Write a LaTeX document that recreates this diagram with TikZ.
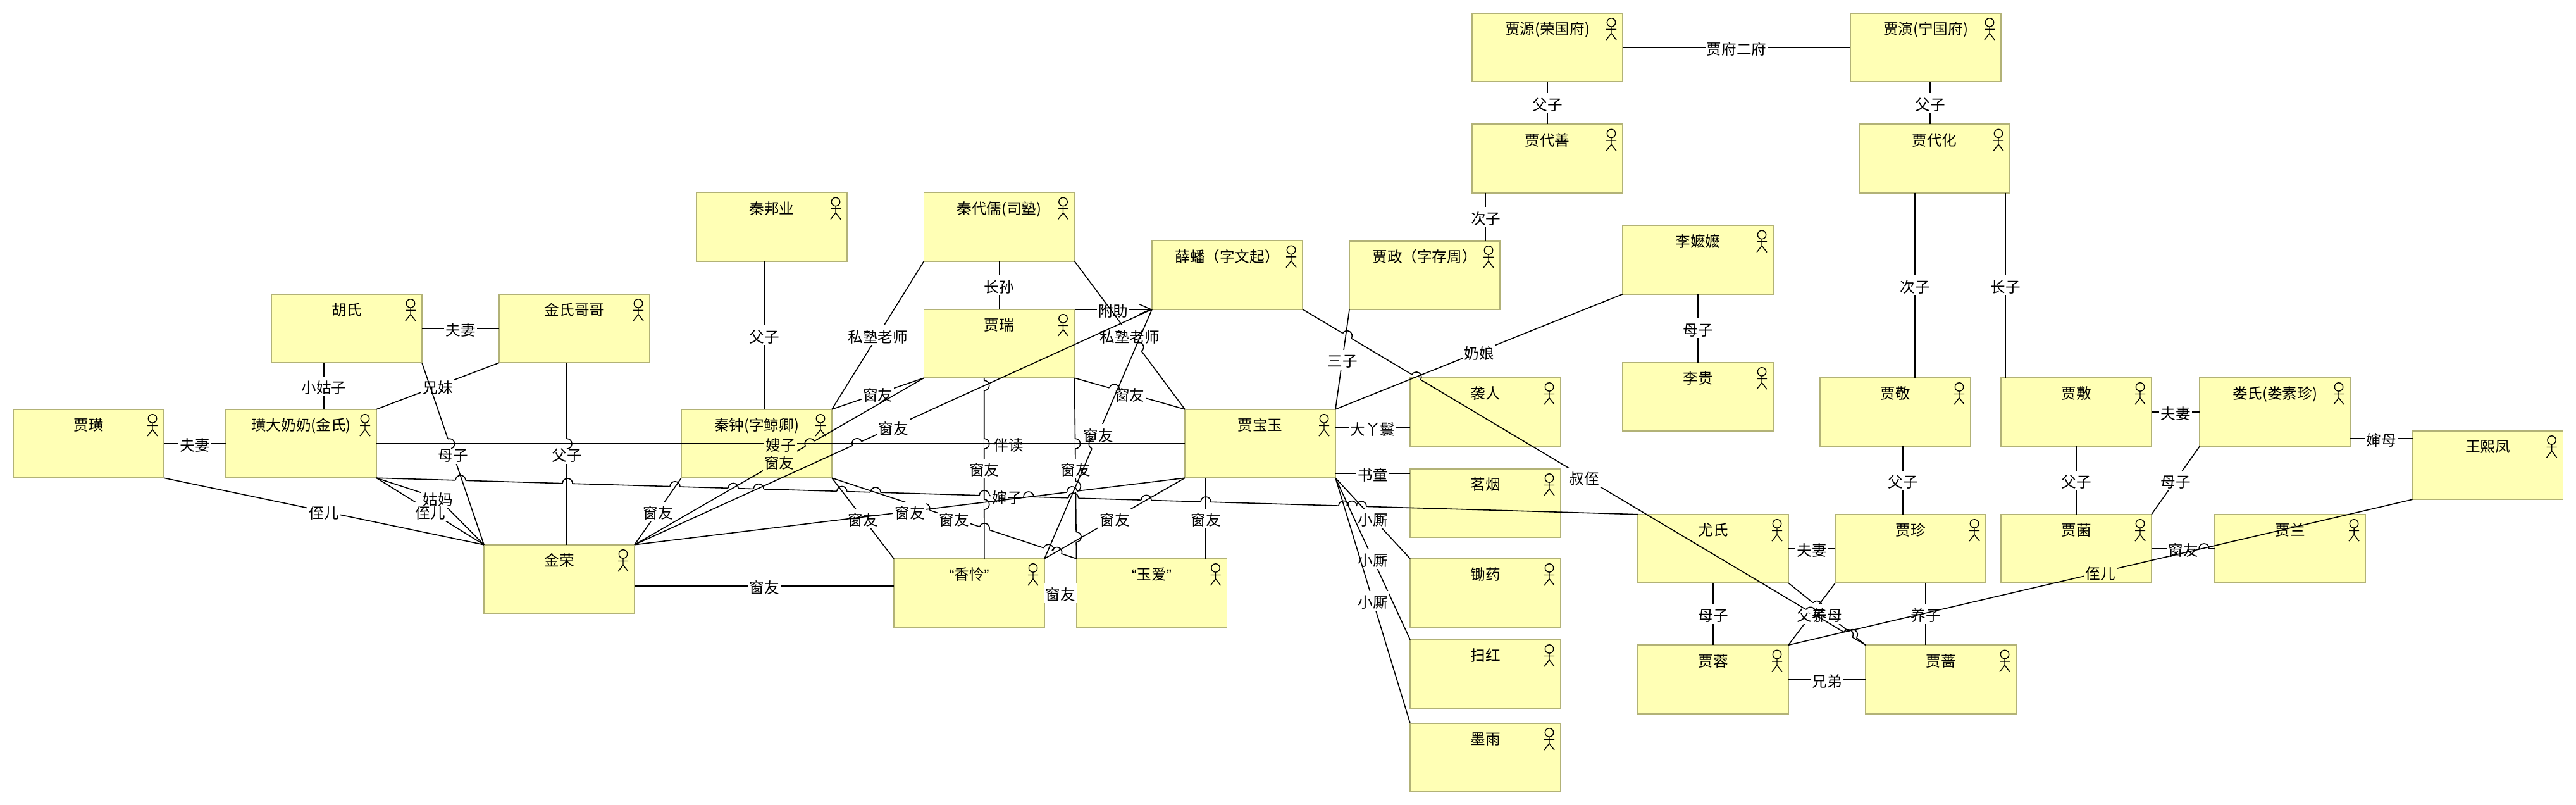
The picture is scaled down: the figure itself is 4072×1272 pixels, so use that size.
\documentclass[tikz,border=0pt]{standalone}
\usepackage{fontspec}
\setmainfont{Noto Sans CJK SC}
\newfontfamily\quotefont{Liberation Sans}
\usepackage{xcolor}
\usetikzlibrary{arrows.meta,calc}
\definecolor{boxfill}{HTML}{FFFFB5}
\definecolor{boxline}{HTML}{B2B277}

\newcommand{\hops}[4][white]{\foreach \hoppos in {#4} \path (#2) -- pic[pos=\hoppos,sloped]{hop=#1} (#3);}
\newcommand{\qt}[1]{{\quotefont“}#1{\quotefont”}}

\tikzset{hop/.pic={
    \draw[#1,line width=1.3pt] (-8,0) -- (8,0);
    \draw (-8,0) arc (180:360:8);
  },
  actor/.pic={
    \draw[line width=.7pt] (-18,14.7) circle [radius=6.7];
    \draw[line width=.7pt] (-18,21.4) -- (-18,32) (-26,25.7) -- (-10,25.7) (-26,42.3) -- (-18,32) -- (-10,42.3);
  }}

\begin{document}
\begin{tikzpicture}[x=.5pt,y=-.5pt,line width=.8pt,>={Straight Barb[length=9pt,width=8pt]},
                      actor box/.style={rectangle,draw=boxline,fill=boxfill,line width=.8pt,inner sep=0pt,outer sep=0pt,
                        minimum width=119pt,minimum height=54.25pt,text height=17pt,text depth=37.25pt,
                        font=\fontsize{11.8pt}{13pt}\selectfont},
                      rel label/.style={fill=white,inner xsep=1pt,inner ysep=0pt,text height=13.5pt,text depth=2pt,
                        font=\fontsize{11.8pt}{13pt}\selectfont},
                      box label/.style={rel label,fill=boxfill}]
    \useasboundingbox (0,0) rectangle (4072,1272);

    % top of the two houses
    \node[actor box] (jiayuan) at (2446,75) {贾源(荣国府)};
    \node[actor box] (jiayan) [right of=jiayuan,node distance=299pt] {贾演(宁国府)};
    \node[actor box] (jiadaishan) [below of=jiayuan,node distance=87.75pt] {贾代善};
    \node[actor box] (jiadaihua) at (3058,250.5) {贾代化};
    \node[actor box] (jiazheng) at (2252,435) {贾政（字存周）};
    \node[actor box] (limama) at (2684,410.5) {李嬷嬷};
    \node[actor box] (ligui) [below of=limama,node distance=108.25pt] {李贵};

    \node[actor box] (jiajing) at (2996,651) {贾敬};
    \node[actor box] (jiafu) at (3282,651) {贾敷};
    \node[actor box] (loushi) [right of=jiafu,node distance=157pt] {娄氏(娄素珍)};
    \node[actor box] (wangxifeng) at (3932.5,735) {王熙凤};
    \node[actor box] (youshi) at (2708,867) {尤氏};
    \node[actor box] (jiazhen) [right of=youshi,node distance=156pt] {贾珍};
    \node[actor box] (jiajun) [below of=jiafu,node distance=108pt] {贾菌};
    \node[actor box] (jialan) at (3620,867) {贾兰};
    \node[actor box] (jiarong) [below of=youshi,node distance=103.25pt] {贾蓉};
    \node[actor box] (jiaqiang) [right of=jiarong,node distance=180pt] {贾蔷};

    % school
    \node[actor box] (qinbangye) at (1220,358.5) {秦邦业};
    \node[actor box] (qindairu) at (1579.5,358.5) {秦代儒(司塾)};
    \node[actor box] (jiarui) [below of=qindairu,node distance=92.25pt] {贾瑞};
    \node[actor box] (xuepan) at (1940,434.5) {薛蟠（字文起）};
    \node[actor box] (qinzhong) at (1196,701) {秦钟(字鲸卿)};
    \node[actor box] (baoyu) at (1992,701) {贾宝玉};
    \node[actor box] (xiangling) at (1532,937) {\qt{香怜}};
    \node[actor box] (yuai) [right of=xiangling,node distance=144.25pt] {\qt{玉爱}};

    % baoyu's servants
    \node[actor box] (xiren) at (2348,651) {袭人};
    \node[actor box] (mingyan) [below of=xiren,node distance=72pt] {茗烟};
    \node[actor box] (chuyao) [below of=mingyan,node distance=71pt] {锄药};
    \node[actor box] (saohong) [below of=chuyao,node distance=64pt] {扫红};
    \node[actor box] (moyu) [below of=saohong,node distance=66pt] {墨雨};

    % jin family
    \node[actor box] (hushi) at (548,519) {胡氏};
    \node[actor box] (jinshi) [right of=hushi,node distance=180pt] {金氏哥哥};
    \node[actor box] (jiahuang) at (140,701) {贾璜};
    \node[actor box] (huangnai) [right of=jiahuang,node distance=168pt] {璜大奶奶(金氏)};
    \node[actor box] (jinrong) at (884,915) {金荣};

    \foreach \who in {jiayuan,jiayan,jiadaishan,jiadaihua,jiazheng,limama,ligui,jiajing,jiafu,loushi,wangxifeng,
                      youshi,jiazhen,jiajun,jialan,jiarong,jiaqiang,qinbangye,qindairu,jiarui,xuepan,qinzhong,baoyu,
                      xiangling,yuai,xiren,mingyan,chuyao,saohong,moyu,hushi,jinshi,jiahuang,huangnai,jinrong}
      \pic at (\who.north east) {actor};

    \coordinate (gumabend) at (692,787);

    \path[every node/.style={rel label}]
      (jiayuan.east) edge node {贾府二府} (jiayan.west)
      (jiayuan.south) edge node {父子} (jiadaishan.north)
      ([xshift=3.5pt]jiayan.south) edge node {父子} ([xshift=-3.5pt]jiadaihua.north)
      ([xshift=-48.7pt]jiadaishan.south) edge node {次子} ([xshift=48.3pt]jiazheng.north)
      ([xshift=-15.5pt]jiadaihua.south) edge node {次子} ([xshift=15.5pt]jiajing.north)
      ([xshift=56pt]jiadaihua.south) edge node {长子} ([xshift=-56pt]jiafu.north)
      ([xshift=6pt]jiajing.south) edge node {父子} ([xshift=-6pt]jiazhen.north)
      (jiafu.south) edge node {父子} (jiajun.north)
      (jiafu.east) edge node {夫妻} (loushi.west)
      (loushi.south west) edge node {母子} (jiajun.north east)
      ([yshift=-21pt]loushi.east) edge node {婶母} ([yshift=21pt]wangxifeng.west)
      (youshi.east) edge node {夫妻} (jiazhen.west)
      (youshi.south) edge node {母子} (jiarong.north)
      ([xshift=12pt]jiazhen.south) edge node {养子} ([xshift=-12pt]jiaqiang.north)
      (jiarong.east) edge node {兄弟} (jiaqiang.west)
      (limama.south) edge node {母子} (ligui.north)
      ([yshift=12.75pt]baoyu.east) edge node {大丫鬟} ([yshift=-12.25pt]xiren.west)
      ([yshift=-23.5pt]baoyu.east) edge node {书童} ([yshift=23.5pt]mingyan.west)
      (jiahuang.east) edge node {夫妻} (huangnai.west)
      (hushi.east) edge node {夫妻} (jinshi.west)
      ([xshift=-18pt]hushi.south) edge node {小姑子} ([xshift=18pt]huangnai.north)
      (jinshi.south west) edge node {兄妹} (huangnai.north east)
      (jiahuang.south east) edge node {侄儿} (jinrong.north west)
      (huangnai.south east) edge (gumabend)
      (gumabend) edge node [pos=0] {\phantom{姑妈}} (jinrong.north west)
      (huangnai.south east) edge node {侄儿} (jinrong.north west)
    ;
    \node[rel label,fill=none] (gumalabel) at (gumabend) {姑妈};

    % the long line hops over nearly everything below it
    \path[every node/.style={rel label}]
      (huangnai.south east) edge node {婶子} (youshi.north west)
    ;
    \hops{huangnai.south east}{youshi.north west}{.0667,.1515,.2367,.2829,.303,.369,.3957,.482,.517,.5525,.6103,.6575,.7668,.7733,.7808}
    \path[every node/.style={rel label}]
      (hushi.south east) edge node {母子} (jinrong.north west)
      ([xshift=-6pt]jinshi.south) edge node {父子} ([xshift=6pt]jinrong.north)
    ;
    \hops{hushi.south east}{jinrong.north west}{.445}
    \hops{[xshift=-6pt]jinshi.south}{[xshift=6pt]jinrong.north}{.445}

    % school friends
    \path[every node/.style={rel label}]
      ([xshift=-6pt]qinbangye.south) edge node {父子} ([xshift=6pt]qinzhong.north)
      (qindairu.south) edge node {长孙} (jiarui.north)
      (qindairu.south west) edge node {私塾老师} (qinzhong.north east)
      (jiarui.south west) edge node {窗友} (qinzhong.north east)
      (jiarui.north east) edge [->] node {附助} (xuepan.south west)
      (qinzhong.south west) edge node {窗友} (jinrong.north east)
      (qinzhong.south east) edge node {窗友} (xiangling.north west)
      ([yshift=-5.5pt]jinrong.east) edge node {窗友} ([yshift=5.5pt]xiangling.west)
      (xiangling.east) edge node {窗友} (yuai.west)
      ([xshift=-43pt]baoyu.south) edge node {窗友} ([xshift=42.75pt]yuai.north)
    ;
    \path[every node/.style={rel label}]
      (qinzhong.south east) edge node {窗友} (yuai.north west)
    ;
    \hops{qinzhong.south east}{yuai.north west}{.38,.624,.886,.92}
    \path[every node/.style={rel label}]
      (jiarui.south east) edge node {窗友} (yuai.north west)
      ([xshift=-11.9pt]jiarui.south) edge node {窗友} ([xshift=11.9pt]xiangling.north)
      (qindairu.south east) edge node {私塾老师} (baoyu.north west)
      (jiarui.south east) edge node {窗友} (baoyu.north west)
    ;
    \hops{jiarui.south east}{yuai.north west}{.364,.6,.88}
    \hops{[xshift=-11.9pt]jiarui.south}{[xshift=11.9pt]xiangling.north}{.042,.364,.7}
    \hops{qindairu.south east}{baoyu.north west}{.58}
    \hops{jiarui.south east}{baoyu.north west}{.36}
    \path[every node/.style={rel label}]
      (baoyu.south west) edge node {窗友} (jinrong.north east)
    ;
    \hops{baoyu.south west}{jinrong.north east}{.205}
    \path[every node/.style={rel label}]
      (xuepan.south west) edge node {窗友} (jinrong.north east)
      (xuepan.south west) edge node {窗友} (xiangling.north east)
      (baoyu.south west) edge node {窗友} (xiangling.north east)
    ;
    \hops{xuepan.south west}{jinrong.north east}{.57}
    \hops{xuepan.south west}{xiangling.north east}{.54}
    \path[every node/.style={box label}]
      (jiarui.south west) edge node {窗友} (jinrong.north east)
    ;
    \hops[boxfill]{jiarui.south west}{jinrong.north east}{.394}
    \path[every node/.style={rel label}]
      (qinzhong.east) edge node {伴读} (baoyu.west)
    ;
    \path[every node/.style={box label}]
      (huangnai.east) edge node {嫂子} (baoyu.west)
    ;

    % jia rong and jia qiang
    \path[every node/.style={rel label}]
      (youshi.south east) edge node {\phantom{养母}} (jiaqiang.north west)
    ;
    \hops{youshi.south east}{jiaqiang.north west}{.37,.83}
    \path[every node/.style={rel label}]
      (jiazhen.south west) edge node {父子} (jiarong.north east)
    ;
    \node[rel label,fill=none] (yangmulabel) at ($(youshi.south east)!.5!(jiaqiang.north west)$) {养母};

    \path[every node/.style={rel label}]
      (xuepan.south east) edge node {叔侄} (jiaqiang.north west)
    ;
    \hops{xuepan.south east}{jiaqiang.north west}{.079,.202,.902,.969}
    \path[every node/.style={rel label}]
      (jiazheng.south west) edge node {三子} (baoyu.north east)
      (limama.south west) edge node {奶娘} (baoyu.north east)
      (baoyu.south east) edge node {小厮} (chuyao.north west)
      (baoyu.south east) edge node {小厮} (saohong.north west)
      (baoyu.south east) edge node {小厮} (moyu.north west)
      (jiajun.east) edge node {窗友} (jialan.west)
    ;
    \hops{jiajun.east}{jialan.west}{.83}
    \path[every node/.style={box label}]
      (wangxifeng.south west) edge node {侄儿} (jiarong.north east)
    ;
  \end{tikzpicture}
\end{document}
